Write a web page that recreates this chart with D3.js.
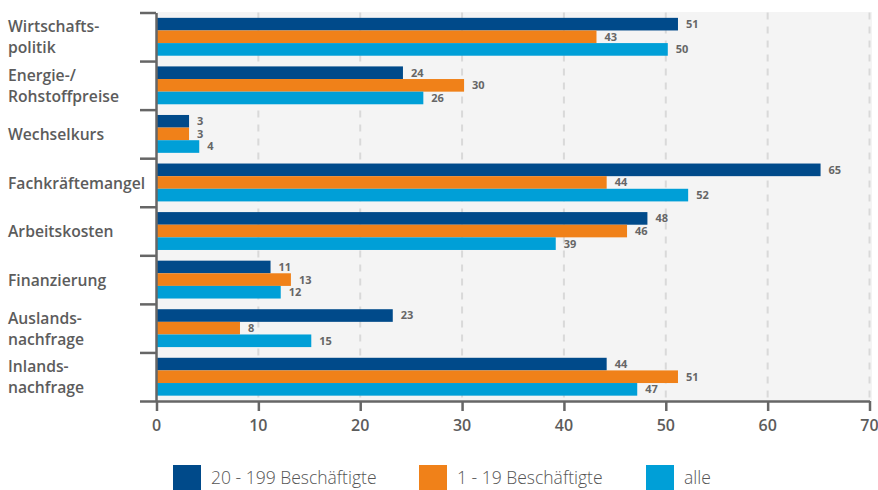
<!DOCTYPE html>
<html>
<head>
<meta charset="utf-8">
<script src="https://cdn.jsdelivr.net/npm/d3@7"></script>
<style>
  body { margin: 0; background: #fff; }
  svg { display: block; font-family: "Open Sans", sans-serif; }
  .axis path, .axis line { stroke: #666; stroke-width: 2.5; }
  .cat-label { font-size: 15.7px; font-weight: 600; fill: #5c5c5c; }
  .value-label { font-size: 11px; font-weight: 700; fill: #666; }
  .tick-label { font-size: 16px; font-weight: 600; fill: #5c5c5c; }
  .legend-text { font-size: 17.5px; font-weight: 300; fill: #555; }
</style>
</head>
<body>
<div class="chart"></div>
<script>
// Data
var categories = ["Wirtschaftspolitik", "Energie-/Rohstoffpreise", "Wechselkurs", "Fachkräftemangel",
  "Arbeitskosten", "Finanzierung", "Auslandsnachfrage", "Inlandsnachfrage"];
var categoryLines = [["Wirtschafts-", "politik"], ["Energie-/", "Rohstoffpreise"], ["Wechselkurs"],
  ["Fachkräftemangel"], ["Arbeitskosten"], ["Finanzierung"], ["Auslands-", "nachfrage"], ["Inlands-", "nachfrage"]];
var seriesNames = ["20 - 199 Beschäftigte", "1 - 19 Beschäftigte", "alle"];
var values20to199 = [51, 24, 3, 65, 48, 11, 23, 44];
var values1to19 = [43, 30, 3, 44, 46, 13, 8, 51];
var valuesAll = [50, 26, 4, 52, 39, 12, 15, 47];
var xTicks = [0, 10, 20, 30, 40, 50, 60, 70];
var colors = ["#004a8a", "#f08119", "#009fd7"];

// Chart Params
var svgWidth = 878;
var svgHeight = 490;
var margin = { top: 12.5, right: 7, bottom: 89, left: 156.5 };
var width = svgWidth - margin.left - margin.right;
var height = svgHeight - margin.top - margin.bottom;

var svg = d3.select(".chart")
  .append("svg")
  .attr("width", svgWidth)
  .attr("height", svgHeight);

var chartGroup = svg.append("g")
  .attr("transform", `translate(${margin.left}, ${margin.top})`);

// Scales
var xScale = d3.scaleLinear()
  .domain([0, 70])
  .range([0, 713]);

var yScale = d3.scaleBand()
  .domain(categories)
  .range([0, height])
  .paddingInner(0.22)
  .paddingOuter(0.11)
  .align(0.5);

var ySeries = d3.scaleBand()
  .domain(seriesNames)
  .range([0, yScale.bandwidth()]);

// boundaries between categories for the left ticks
var yBounds = d3.scaleLinear()
  .domain([0, categories.length])
  .range([0, height]);

// Background
chartGroup.append("rect")
  .attr("x", 0)
  .attr("y", -0.5)
  .attr("width", width + 1)
  .attr("height", height)
  .attr("fill", "#f4f4f4");

// Grid lines
chartGroup.selectAll(".grid")
  .data(xTicks.slice(1))
  .enter()
  .append("line")
  .attr("x1", d => xScale(d))
  .attr("x2", d => xScale(d))
  .attr("y1", 0)
  .attr("y2", height)
  .attr("stroke", "#d9d9d9")
  .attr("stroke-width", 2)
  .attr("stroke-dasharray", "7,7");

// Bars
var rows = categories.map(function(c, i) {
  return { cat: c, vals: [values20to199[i], values1to19[i], valuesAll[i]] };
});

var rowGroups = chartGroup.selectAll(".row")
  .data(rows)
  .enter()
  .append("g")
  .attr("transform", d => `translate(0, ${yScale(d.cat)})`);

// bars start under the axis line, so they run ~2px past the value
rowGroups.selectAll("rect")
  .data(d => d.vals.map((v, j) => ({ series: seriesNames[j], value: v, color: colors[j] })))
  .enter()
  .append("rect")
  .attr("x", 0)
  .attr("y", d => ySeries(d.series))
  .attr("width", d => xScale(d.value) + 2)
  .attr("height", ySeries.bandwidth())
  .attr("fill", d => d.color);

rowGroups.selectAll(".value-label")
  .data(d => d.vals.map((v, j) => ({ series: seriesNames[j], value: v })))
  .enter()
  .append("text")
  .attr("class", "value-label")
  .attr("x", d => xScale(d.value) + 10)
  .attr("y", d => ySeries(d.series) + ySeries.bandwidth() / 2)
  .attr("dy", "0.36em")
  .text(d => d.value);

// Axes
var bottomAxis = d3.axisBottom(xScale)
  .tickValues(xTicks)
  .tickSizeInner(10)
  .tickSizeOuter(0)
  .tickFormat("");

chartGroup.append("g")
  .attr("class", "axis")
  .attr("transform", `translate(0, ${height})`)
  .call(bottomAxis);

chartGroup.selectAll(".tick-label")
  .data(xTicks)
  .enter()
  .append("text")
  .attr("class", "tick-label")
  .attr("x", d => xScale(d))
  .attr("y", height + 30)
  .attr("text-anchor", "middle")
  .text(d => d);

var leftAxis = d3.axisLeft(yBounds)
  .tickValues(d3.range(categories.length + 1))
  .tickSizeInner(16)
  .tickSizeOuter(0)
  .tickFormat("");

chartGroup.append("g")
  .attr("class", "axis")
  .attr("transform", "translate(-0.5, 0)")
  .call(leftAxis);

// Category labels
var catLabels = svg.selectAll(".cat-label")
  .data(categories)
  .enter()
  .append("text")
  .attr("class", "cat-label")
  .attr("x", 8)
  .attr("y", d => margin.top + yScale(d) + yScale.bandwidth() / 2);

catLabels.each(function(d, i) {
  var lines = categoryLines[i];
  var lh = 21;
  var el = d3.select(this);
  lines.forEach(function(line, k) {
    el.append("tspan")
      .attr("x", 8)
      .attr("dy", k === 0 ? (0.36 * 15.7 - (lines.length - 1) * lh / 2 + 0.5) + "px" : lh + "px")
      .text(line);
  });
});

// Legend
var legendX = [173, 419, 646];
var legend = svg.selectAll(".legend")
  .data(seriesNames)
  .enter()
  .append("g")
  .attr("transform", (d, i) => `translate(${legendX[i]}, 465)`);

legend.append("rect")
  .attr("width", 28)
  .attr("height", 25)
  .attr("fill", (d, i) => colors[i]);

legend.append("text")
  .attr("class", "legend-text")
  .attr("x", 38)
  .attr("y", 19)
  .text(d => d);
</script>
</body>
</html>
